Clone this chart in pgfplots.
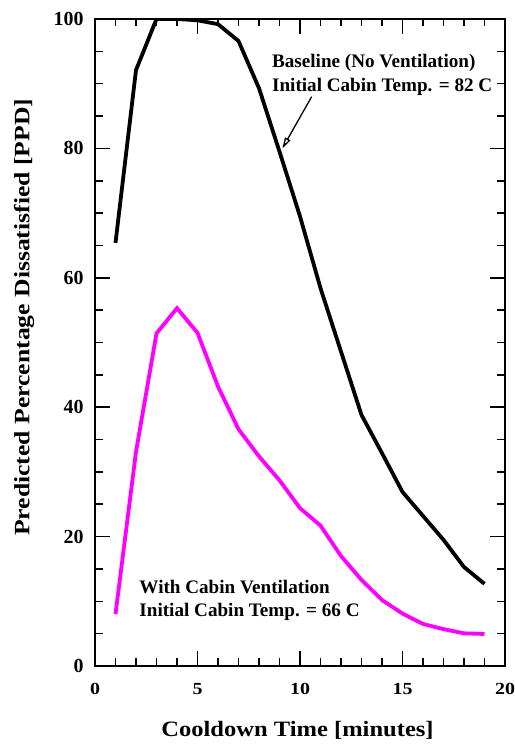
\documentclass[border=0pt]{standalone}
\usepackage{pgfplots}
\pgfplotsset{compat=1.18}
\usepackage{fontspec}
\setmainfont{Liberation Serif}
\usetikzlibrary{arrows.meta}
\definecolor{ventmag}{RGB}{255,0,255}

\begin{document}
\begin{tikzpicture}
\begin{axis}[
    scale only axis,
    width=410bp, height=647bp,
    xmin=0, xmax=20, ymin=0, ymax=100,
    xtick={0,5,...,20}, ytick={0,20,...,100},
    tick style={draw=none},
    axis line style={line width=1.8bp},
    /pgf/number format/assume math mode=true,
    tick label style={font=\fontsize{20}{24}\selectfont\bfseries},
    yticklabel style={xshift=-8bp},
    xticklabel style={yshift=-14bp, yscale=0.85},
    xlabel={\scalebox{1.12}[1]{Cooldown Time [minutes]}},
    ylabel={\scalebox{1.17}[1]{Predicted Percentage Dissatisfied [PPD]}},
    label style={font=\fontsize{22}{26}\selectfont\bfseries},
    xlabel style={at={(axis description cs:0.494,-0.1097)}, anchor=base},
    ylabel style={at={(axis description cs:-0.173,0.539)}, anchor=center, rotate=0},
]
\addplot[black, line width=3.8bp] coordinates {
  (1,65.4) (2,92.1) (3,100) (4,100) (5,99.8) (6,99.2) (7,96.6) (8,89.3)
  (9,79.5) (10,69.5) (11,58.4) (12,48.6) (13,38.8) (14,32.9) (15,26.9)
  (16,23.2) (17,19.5) (18,15.3) (19,12.7)
};
\addplot[ventmag, line width=3.8bp] coordinates {
  (1,8.0) (2,33.1) (3,51.4) (4,55.3) (5,51.5) (6,43.2) (7,36.6) (8,32.4)
  (9,28.7) (10,24.4) (11,21.7) (12,17.0) (13,13.3) (14,10.2) (15,8.1)
  (16,6.5) (17,5.7) (18,5.05) (19,4.95)
};
% inward tick marks on all four sides (minor 7.5bp, major 15bp)
\pgfplotsinvokeforeach{1,2,3,4,6,7,8,9,11,12,13,14,16,17,18,19}{
  \draw[line width=1.6bp] (axis cs:#1,0) -- (axis cs:#1,1.16);
  \draw[line width=1.6bp] (axis cs:#1,100) -- (axis cs:#1,98.84);
}
\pgfplotsinvokeforeach{5,10,15}{
  \draw[line width=1.6bp] (axis cs:#1,0) -- (axis cs:#1,2.32);
  \draw[line width=1.6bp] (axis cs:#1,100) -- (axis cs:#1,97.68);
}
\pgfplotsinvokeforeach{5,10,15,25,30,35,45,50,55,65,70,75,85,90,95}{
  \draw[line width=1.6bp] (axis cs:0,#1) -- (axis cs:0.366,#1);
  \draw[line width=1.6bp] (axis cs:20,#1) -- (axis cs:19.634,#1);
}
\pgfplotsinvokeforeach{20,40,60,80}{
  \draw[line width=1.6bp] (axis cs:0,#1) -- (axis cs:0.732,#1);
  \draw[line width=1.6bp] (axis cs:20,#1) -- (axis cs:19.268,#1);
}
\node[anchor=base west, font=\fontsize{19.2}{22}\selectfont\bfseries, inner sep=0pt]
  at (axis cs:8.63,92.47) {Baseline (No Ventilation)};
\node[anchor=base west, font=\fontsize{19.2}{22}\selectfont\bfseries, inner sep=0pt]
  at (axis cs:8.63,88.76) {Initial Cabin Temp. = 82 C};
\node[anchor=base west, font=\fontsize{19.2}{22}\selectfont\bfseries, inner sep=0pt]
  at (axis cs:2.16,11.13) {With Cabin Ventilation};
\node[anchor=base west, font=\fontsize{19.2}{22}\selectfont\bfseries, inner sep=0pt]
  at (axis cs:2.16,7.62) {Initial Cabin Temp. = 66 C};
\draw[line width=1.3bp, -{Triangle[open, length=11bp, width=6bp]}]
  (axis cs:10.57,88.0) -- (axis cs:9.14,80.0);
\end{axis}
\pgfresetboundingbox
\path (-95bp,-78bp) rectangle (420bp,666bp);
\end{tikzpicture}
\end{document}
